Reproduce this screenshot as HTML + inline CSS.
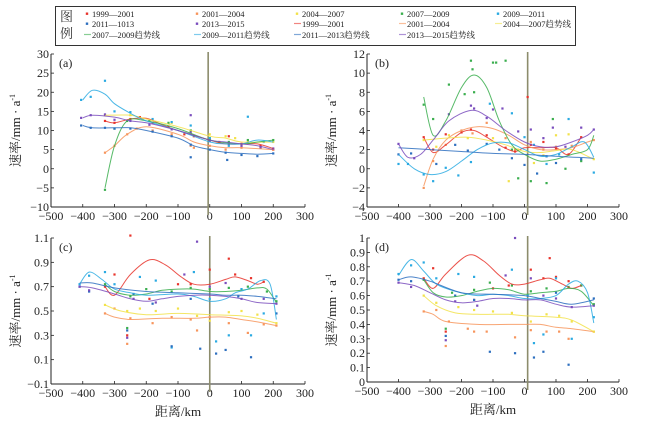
<!DOCTYPE html>
<html><head><meta charset="utf-8">
<style>
body{margin:0;background:#fff;}
svg{display:block;font-family:"Liberation Serif","Noto Serif CJK SC",serif;}
</style></head>
<body>
<svg id="chart" width="663" height="423" viewBox="0 0 663 423" xmlns="http://www.w3.org/2000/svg">
<g>
 <rect x="55.5" y="6.5" width="520" height="39" fill="#fff" stroke="#333" stroke-width="1"/>
 <text x="60" y="21" font-size="13" fill="#333">图</text>
 <text x="60" y="38" font-size="13" fill="#333">例</text>
</g>
<g id="panels"></g>
</svg>
<script>
const NS="http://www.w3.org/2000/svg";
const svg=document.getElementById('chart');
const root=document.getElementById('panels');
const colors={r:"#e8342c",o:"#f7955c",y:"#f2e24a",g:"#3aae4e",c:"#2aaae2",b:"#2d6fbf",p:"#7a4dbd"};
const seriesKeys=["r","o","y","g","c","b","p"];
const legendLabels=["1999—2001","2001—2004","2004—2007","2007—2009","2009—2011","2011—1013","2013—2015","1999—2001","2001—2004","2004—2007趋势线","2007—2009趋势线","2009—2011趋势线","2011—2013趋势线","2013—2015趋势线"];
const legendKinds=["r","o","y","g","c","b","p","r","o","y","g","c","b","p"];

// Panel tick labels
const xTicks=[-500,-400,-300,-200,-100,0,100,200,300];
const yTicksA=[-10,-5,0,5,10,15,20,25,30];
const yTicksB=[-4,-2,0,2,4,6,8,10,12];
const yTicksC=[-0.1,0.1,0.3,0.5,0.7,0.9,1.1];
const yTicksD=[0,0.1,0.2,0.3,0.4,0.5,0.6,0.7,0.8,0.9,1];

// Trend-line values per panel (x km, rate)
const trendA={
 b:[[-400,11.3],[-370,10.7],[-300,10.7],[-250,10.7],[-200,10],[-100,8],[-50,6],[0,5],[50,4.3],[100,4],[150,3.8],[200,4]],
 c:[[-400,18],[-370,20.5],[-330,19.5],[-300,17],[-250,14.5],[-200,12.5],[-100,10],[0,7],[50,6.5],[100,6.5],[150,7.5],[200,7]],
 p:[[-400,13.3],[-370,14],[-300,13.5],[-250,12.5],[-200,12],[-100,10],[0,7.5],[50,7],[100,6.5],[150,6],[200,5]],
 r:[[-330,12.5],[-300,12],[-250,13],[-200,13.2],[-150,11.5],[-100,10],[0,7.5],[50,6.5],[100,6.5],[150,6.5],[200,5.3]],
 o:[[-330,4.2],[-300,6],[-260,9],[-200,11],[-100,9],[-50,7],[0,6],[50,5.5],[100,5.5],[200,5]],
 y:[[-330,14],[-250,14],[-200,13],[-100,11],[0,8.5],[50,8],[100,7],[200,7]],
 g:[[-330,-5],[-300,6],[-260,12.5],[-200,12.5],[-100,10.5],[0,7.5],[100,6.5],[150,7],[200,7.5]]
};
const trendB={
 g:[[-320,7.5],[-290,3.5],[-250,5],[-200,8.5],[-160,9.8],[-120,8.5],[-80,5],[-40,2.5],[0,1.5],[50,0.8],[100,1],[150,1.5],[200,2],[220,3.5]],
 p:[[-400,2.6],[-370,1.2],[-330,1.5],[-290,3],[-240,5],[-170,6.1],[-120,5.5],[-60,4],[0,2.8],[50,2.3],[100,2.3],[150,2.8],[200,3.5],[220,4.1]],
 o:[[-320,-1.8],[-290,1],[-250,3],[-200,4],[-150,4.4],[-100,4.2],[-50,3.5],[0,2.5],[50,2],[100,2],[150,2.2],[200,2.8],[220,3]],
 r:[[-320,3.3],[-290,1.7],[-250,2.5],[-200,3.8],[-160,4],[-120,3.3],[-70,2.3],[-30,1.8],[0,2.2],[50,2.2],[100,2.2],[140,1.5],[180,3.3]],
 y:[[-320,3],[-250,3.2],[-180,3.3],[-120,3],[-60,2.5],[0,1.8],[50,1.7],[100,1.9],[150,2],[220,1]],
 c:[[-400,1.5],[-350,0],[-300,-0.6],[-250,-0.3],[-200,0.8],[-150,2],[-100,2.7],[-50,2.7],[0,2],[50,1.3],[100,1.5],[150,2.3],[190,2.8],[220,1.2]],
 b:[[-400,2.2],[-300,2],[-200,1.8],[-100,1.6],[0,1.5],[100,1.3],[220,1.1]]
};
const trendC={
 r:[[-330,0.7],[-300,0.63],[-250,0.8],[-190,0.92],[-140,0.88],[-90,0.78],[-50,0.72],[0,0.72],[50,0.76],[80,0.78],[120,0.75],[150,0.72],[170,0.74]],
 c:[[-410,0.72],[-380,0.82],[-340,0.76],[-300,0.68],[-250,0.65],[-200,0.63],[-100,0.64],[-50,0.62],[0,0.58],[50,0.6],[80,0.65],[120,0.68],[160,0.75],[190,0.72],[210,0.43]],
 b:[[-410,0.73],[-370,0.73],[-300,0.69],[-200,0.66],[-100,0.65],[0,0.64],[50,0.63],[100,0.63],[150,0.62],[210,0.6]],
 g:[[-330,0.72],[-300,0.66],[-250,0.63],[-200,0.64],[-150,0.67],[-100,0.68],[-50,0.68],[0,0.66],[50,0.66],[100,0.67],[150,0.69],[180,0.68],[210,0.57]],
 p:[[-410,0.7],[-370,0.69],[-300,0.64],[-250,0.6],[-200,0.58],[-150,0.6],[-100,0.62],[-50,0.63],[0,0.63],[50,0.62],[100,0.6],[150,0.57],[210,0.56]],
 y:[[-330,0.55],[-280,0.5],[-200,0.47],[-100,0.48],[0,0.47],[100,0.46],[150,0.44],[210,0.4]],
 o:[[-330,0.48],[-300,0.45],[-250,0.43],[-150,0.44],[-50,0.44],[0,0.45],[50,0.45],[100,0.43],[150,0.41],[210,0.38]]
};
const trendD={
 r:[[-320,0.72],[-290,0.65],[-250,0.75],[-180,0.88],[-130,0.84],[-80,0.74],[-40,0.68],[0,0.68],[50,0.71],[80,0.72],[120,0.68],[150,0.65],[180,0.67]],
 c:[[-400,0.74],[-360,0.85],[-320,0.77],[-280,0.68],[-220,0.63],[-150,0.6],[-100,0.61],[-50,0.6],[0,0.58],[50,0.58],[100,0.6],[140,0.68],[170,0.7],[200,0.62],[220,0.41]],
 b:[[-400,0.71],[-360,0.73],[-300,0.7],[-200,0.62],[-100,0.61],[0,0.6],[50,0.58],[100,0.56],[150,0.54],[220,0.57]],
 g:[[-320,0.71],[-290,0.62],[-250,0.59],[-200,0.6],[-150,0.63],[-100,0.65],[-50,0.64],[0,0.61],[50,0.62],[100,0.63],[140,0.65],[180,0.63],[220,0.53]],
 p:[[-400,0.69],[-350,0.67],[-300,0.62],[-250,0.57],[-200,0.55],[-150,0.56],[-100,0.58],[-50,0.58],[0,0.57],[50,0.57],[100,0.54],[150,0.52],[220,0.53]],
 y:[[-320,0.6],[-280,0.53],[-220,0.48],[-150,0.47],[-100,0.47],[-50,0.47],[0,0.46],[100,0.45],[150,0.43],[220,0.35]],
 o:[[-320,0.49],[-290,0.47],[-250,0.42],[-150,0.4],[-50,0.4],[0,0.4],[50,0.4],[100,0.38],[150,0.37],[220,0.35]]
};
// Scatter observations per panel
const pointsA={
 r:[[-330,12.5],[-300,12],[-250,13],[-220,13.5],[-180,12],[-130,11],[-80,9],[-50,8.5],[0,7.5],[30,7],[60,8.5],[100,6.5],[160,6],[200,5]],
 o:[[-330,4.2],[-300,6],[-260,9],[-230,10.5],[-180,10],[-120,9],[-60,6],[-50,5.5],[0,6],[50,5],[100,5.5],[160,5.5],[200,5]],
 y:[[-330,14],[-250,14],[-210,13],[-120,12],[-60,10],[0,9],[50,8.5],[80,8],[120,7],[200,7]],
 g:[[-330,-5.5],[-300,10.5],[-260,12.5],[-190,12.5],[-130,12],[-60,10],[0,8],[60,7],[120,7.5],[200,7.5]],
 c:[[-405,18],[-375,18.8],[-330,23],[-300,15],[-250,14.8],[-180,13],[-120,12.2],[-60,11.3],[0,8],[60,6],[120,13.6],[170,7]],
 b:[[-405,11.3],[-375,10.7],[-330,10.7],[-300,10.5],[-250,10.5],[-180,9.7],[-120,8.5],[-60,6.3],[-60,3],[0,5],[50,4.2],[55,2.3],[100,3.6],[150,3.3],[200,4]],
 p:[[-405,13.3],[-375,14],[-330,14.2],[-300,12.8],[-250,12.5],[-190,11.5],[-120,10.3],[-60,9.5],[-60,14],[0,7.3],[60,6.5],[100,6],[160,5.5],[200,5.3]]
};
const pointsB={
 r:[[-320,3.3],[-290,2],[-250,3.6],[-200,3.8],[-170,4.1],[-120,3.5],[-60,2.2],[-30,1.8],[10,7.5],[20,2.5],[60,2.8],[100,2.1],[140,1.5],[180,3.3]],
 o:[[-320,-2],[-290,0.8],[-250,2.5],[-200,4],[-165,3.7],[-120,4.8],[-60,3.2],[-30,2],[20,2.8],[60,2],[100,2.3],[150,2.4],[220,3]],
 y:[[-320,3],[-280,2.3],[-240,3.5],[-180,3.2],[-100,3.2],[-50,-1.3],[-20,2],[30,0.6],[60,1.4],[100,3.5],[140,3.6],[220,1]],
 g:[[-320,6.7],[-290,5.2],[-240,8.8],[-190,7.8],[-170,11.3],[-165,10.4],[-160,8],[-100,11.1],[-90,11.1],[-60,11.3],[-40,2],[-20,-1],[20,-1.3],[70,-1.5],[90,5.2],[130,0],[180,0.8]],
 c:[[-400,0.5],[-370,0.5],[-320,-0.6],[-290,-1.3],[-250,0.1],[-210,-0.7],[-170,0.7],[-110,6.8],[-40,5.8],[0,3.3],[30,2.5],[70,0.5],[110,1.5],[140,5.2],[220,-0.4]],
 b:[[-400,1.5],[-360,1.6],[-280,0.5],[-220,2.5],[-180,1.9],[-120,2.6],[-80,2],[-40,1.1],[0,0.4],[40,-0.5],[70,1.3],[100,0.6],[180,1]],
 p:[[-400,2.6],[-350,1.1],[-240,5.7],[-170,6.6],[-160,6.3],[-120,5.3],[-100,6.2],[-70,6.3],[-20,3.9],[20,4.1],[60,3.2],[90,4.3],[130,2.3],[180,4.3],[220,4.1]]
};
const pointsC={
 r:[[-330,0.7],[-300,0.8],[-250,1.12],[-260,0.3],[-190,0.6],[-100,0.72],[-60,0.72],[0,0.84],[60,0.93],[80,0.8],[130,0.77],[170,0.74]],
 o:[[-330,0.48],[-300,0.52],[-260,0.23],[-250,0.44],[-180,0.4],[-120,0.45],[-60,0.43],[-40,0.34],[0,0.45],[60,0.4],[120,0.32],[170,0.39],[210,0.38]],
 y:[[-330,0.55],[-260,0.5],[-220,0.52],[-170,0.5],[-100,0.52],[-40,0.46],[0,0.42],[60,0.49],[100,0.5],[150,0.47],[210,0.4]],
 g:[[-330,0.72],[-260,0.36],[-250,0.62],[-200,0.68],[-120,0.66],[-60,0.69],[0,0.68],[60,0.69],[120,0.7],[180,0.66],[210,0.58]],
 c:[[-410,0.72],[-380,0.79],[-330,0.82],[-300,0.72],[-220,0.78],[-170,0.75],[-120,0.2],[-50,0.82],[0,0.6],[20,0.25],[60,0.3],[100,0.68],[130,0.3],[170,0.48],[210,0.62]],
 b:[[-410,0.7],[-380,0.66],[-260,0.34],[-240,0.64],[-180,0.56],[-120,0.21],[-60,0.6],[-30,0.19],[20,0.15],[50,0.18],[90,0.62],[130,0.12],[210,0.48]],
 p:[[-410,0.7],[-380,0.67],[-260,0.28],[-240,0.6],[-170,0.57],[-80,0.8],[-40,1.07],[0,0.7],[50,0.73],[100,0.6],[170,0.6],[210,0.56]]
};
const pointsD={
 r:[[-320,0.72],[-290,0.79],[-250,0.35],[-160,0.57],[-100,0.65],[-50,0.67],[20,0.78],[60,0.72],[80,0.86],[100,0.73],[140,0.7],[180,0.67]],
 o:[[-320,0.49],[-280,0.5],[-250,0.25],[-240,0.42],[-180,0.37],[-160,0.35],[-120,0.35],[-30,0.31],[20,0.36],[70,0.35],[110,0.35],[140,0.3],[220,0.35]],
 y:[[-320,0.6],[-280,0.55],[-210,0.52],[-160,0.5],[-100,0.49],[-40,0.48],[20,0.42],[70,0.47],[110,0.46],[150,0.42],[220,0.35]],
 g:[[-320,0.71],[-250,0.37],[-230,0.62],[-160,0.64],[-110,0.69],[-40,0.67],[20,0.63],[70,0.65],[140,0.66],[180,0.67],[220,0.54]],
 c:[[-400,0.75],[-360,0.81],[-320,0.83],[-280,0.72],[-210,0.75],[-160,0.73],[-40,0.78],[10,0.6],[30,0.27],[60,0.33],[100,0.72],[150,0.3],[220,0.45]],
 b:[[-400,0.71],[-360,0.7],[-250,0.32],[-220,0.6],[-160,0.57],[-110,0.21],[-30,0.2],[30,0.17],[60,0.21],[100,0.62],[140,0.12],[220,0.58]],
 p:[[-400,0.69],[-360,0.66],[-250,0.29],[-220,0.56],[-150,0.53],[-60,0.74],[-30,1],[20,0.72],[60,0.6],[100,0.58],[150,0.52],[220,0.53]]
};

function el(tag,attrs,parent){const e=document.createElementNS(NS,tag);for(const k in attrs)e.setAttribute(k,attrs[k]);(parent||root).appendChild(e);return e;}

// legend
const colX=[87,197,297,402,498],rowY=[17,27,38];
legendLabels.forEach((lab,i)=>{
 const col=i%5,row=Math.floor(i/5);const x=colX[col],y=rowY[row];
 const g=el('g',{},svg);
 
 
 const c=colors[legendKinds[i]];
 if(i<7){el('rect',{x:x-1.2,y:y-4.5,width:2.4,height:2.4,fill:c},g);}
 else{el('line',{x1:x-3,x2:x+4,y1:y-3.5,y2:y-3.5,stroke:c,'stroke-width':1.2,opacity:0.6},g);}
 const t=el('text',{x:x+5,y:y,'font-size':8.5,fill:'#222'},g);t.textContent=lab;
});

function smoothPath(pts){
 let d="M"+pts[0][0].toFixed(1)+","+pts[0][1].toFixed(1);
 for(let i=0;i<pts.length-1;i++){
  const p0=pts[Math.max(0,i-1)],p1=pts[i],p2=pts[i+1],p3=pts[Math.min(pts.length-1,i+2)];
  const c1x=p1[0]+(p2[0]-p0[0])/6,c1y=p1[1]+(p2[1]-p0[1])/6;
  const c2x=p2[0]-(p3[0]-p1[0])/6,c2y=p2[1]-(p3[1]-p1[1])/6;
  d+=" C"+c1x.toFixed(1)+","+c1y.toFixed(1)+" "+c2x.toFixed(1)+","+c2y.toFixed(1)+" "+p2[0].toFixed(1)+","+p2[1].toFixed(1);
 }
 return d;
}

function panel(cfg){
 const g=el('g',{});
 
 
 const X=v=>cfg.x0+(v+500)/800*(cfg.x1-cfg.x0);
 const Y=v=>cfg.yb+(v-cfg.ymin)/(cfg.ymax-cfg.ymin)*(cfg.yt-cfg.yb);
 // axes
 const ax=el('line',{x1:cfg.x0,x2:cfg.x1,y1:cfg.yb,y2:cfg.yb,stroke:'#222','stroke-width':1},g);
 
 
 const ay=el('line',{x1:cfg.x0,x2:cfg.x0,y1:cfg.yb,y2:cfg.yt,stroke:'#222','stroke-width':1},g);
 
 
 xTicks.forEach(v=>{
  el('line',{x1:X(v),x2:X(v),y1:cfg.yb,y2:cfg.yb-3,stroke:'#222','stroke-width':0.8},g);
  const t=el('text',{x:X(v),y:cfg.yb+13,'font-size':12,'text-anchor':'middle',fill:'#222'},g);
  
  
  t.textContent=(v<0?'\u2212'+(-v):v);
 });
 cfg.yTicks.forEach(v=>{
  el('line',{x1:cfg.x0,x2:cfg.x0+3,y1:Y(v),y2:Y(v),stroke:'#222','stroke-width':0.8},g);
  const t=el('text',{x:cfg.x0-2,y:Y(v)+4,'font-size':12,'text-anchor':'end',fill:'#222'},g);
  
  
  t.textContent=(v<0?'\u2212'+String(-v):String(v));
 });
 // y title
 const yt=el('text',{x:0,y:0,'font-size':13,'text-anchor':'middle',fill:'#222',transform:`translate(${cfg.x0-31},${(cfg.yt+cfg.yb)/2}) rotate(-90)`},g);
 
 
 yt.innerHTML='速率/mm · a<tspan font-size="8" dy="-5">-1</tspan>';
 const lab=el('text',{x:cfg.x0+8,y:cfg.yt+13,'font-size':12,fill:'#222'},g);
 
 
 lab.textContent='('+cfg.id+')';
 if(cfg.xtitle){
  const xt=el('text',{x:(cfg.x0+cfg.x1)/2,y:cfg.yb+32,'font-size':13,'text-anchor':'middle',fill:'#222'},g);
  
  
  xt.textContent='距离/km';
 }
 // vertical line
 const vl=el('line',{x1:X(cfg.vline),x2:X(cfg.vline),y1:cfg.yt-2,y2:cfg.yb+8,stroke:'#8c8c6c','stroke-width':1.6},g);
 
 
 // points
 seriesKeys.forEach(k=>{
  cfg.points[k].forEach(p=>{
   const r=el('rect',{x:X(p[0])-1.1,y:Y(p[1])-1.1,width:2.2,height:2.2,fill:colors[k]},g);
   
   
  });
 });
 seriesKeys.forEach(k=>{
  const pts=cfg.trend[k].map(p=>[X(p[0]),Y(p[1])]);
  const path=el('path',{d:smoothPath(pts),fill:'none',stroke:colors[k],'stroke-width':1,opacity:0.85},g);
  
  
 });
}
panel({id:'a',x0:51,x1:305,yb:207,yt:54,ymin:-10,ymax:30,yTicks:yTicksA,trend:trendA,points:pointsA,vline:-5,xtitle:false});
panel({id:'b',x0:367,x1:619,yb:207,yt:54,ymin:-4,ymax:12,yTicks:yTicksB,trend:trendB,points:pointsB,vline:10,xtitle:false});
panel({id:'c',x0:51,x1:305,yb:384,yt:238,ymin:-0.1,ymax:1.1,yTicks:yTicksC,trend:trendC,points:pointsC,vline:0,xtitle:true});
panel({id:'d',x0:367,x1:619,yb:382,yt:238,ymin:0,ymax:1,yTicks:yTicksD,trend:trendD,points:pointsD,vline:10,xtitle:true});
</script>
</body></html>
